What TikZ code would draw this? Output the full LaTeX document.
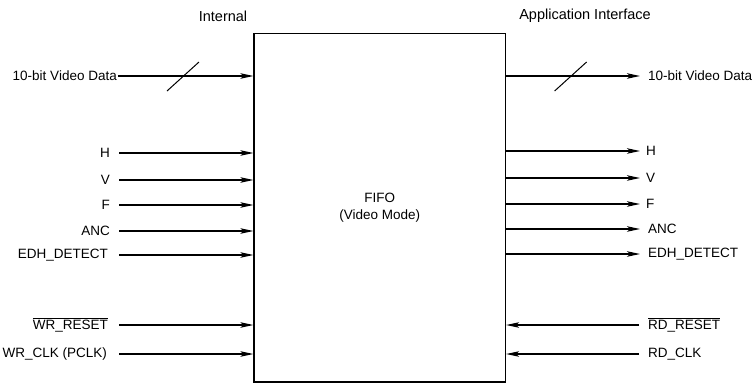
\documentclass[tikz,border=0pt]{standalone}
\usepackage{fontspec}
\setmainfont{Liberation Sans}
\usetikzlibrary{arrows.meta, positioning, calc}

\begin{document}
\begin{tikzpicture}[x=1pt, y=-1pt,
  sig/.style={line width=1.2pt, -{Stealth[length=13pt, width=5.5pt, inset=3pt]}},
  lbl/.style={font=\fontsize{13.5}{16}\selectfont, inner sep=2pt},
  inlbl/.style={lbl, anchor=east, xshift=-7pt},
  outlbl/.style={lbl, anchor=west, xshift=4pt},
  busmark/.style={line width=1pt}]
  \useasboundingbox (0,0) rectangle (756,384);

  % FIFO block
  \node[draw, line width=1.2pt, minimum width=251.5pt, minimum height=348.5pt,
        inner sep=0pt, align=center, font=\fontsize{13.5}{17}\selectfont]
        (fifo) at (379.75,207.75) {FIFO\\(Video Mode)};

  % side headings
  \node[lbl, font=\fontsize{14.5}{16}\selectfont] (hdint) at (223,16) {Internal};
  \node[lbl, font=\fontsize{14.5}{16}\selectfont] (hdapp) at (585,16) {Application Interface};

  % Internal side -- data bus
  \coordinate (inD) at (118,76);
  \node[lbl, anchor=east, inner sep=1pt] (lblInD) at (inD) {10-bit Video Data};
  \draw[sig] (inD) -- (inD -| fifo.west);
  \draw[busmark] ($(inD)+(49,15)$) -- ++(32,-29);

  % Internal side -- timing signals
  \coordinate (inH) at (119,153);
  \node[inlbl] (lblInH) at (inH) {H};
  \draw[sig] (inH) -- (inH -| fifo.west);
  \coordinate (inV) at (119,180);
  \node[inlbl] (lblInV) at (inV) {V};
  \draw[sig] (inV) -- (inV -| fifo.west);
  \coordinate (inF) at (119,205);
  \node[inlbl] (lblInF) at (inF) {F};
  \draw[sig] (inF) -- (inF -| fifo.west);
  \coordinate (inA) at (119,231);
  \node[inlbl] (lblInA) at (inA) {ANC};
  \draw[sig] (inA) -- (inA -| fifo.west);
  \coordinate (inE) at (119,255);
  \node[inlbl, xshift=-2pt] (lblInE) at (inE) {EDH\_DETECT};
  \draw[sig] (inE) -- (inE -| fifo.west);

  % Internal side -- reset and clock
  \coordinate (inR) at (119,325);
  \node[inlbl, xshift=-2pt] (lblInR) at (inR) {$\overline{\mbox{WR\_RESET}}$};
  \draw[sig] (inR) -- (inR -| fifo.west);
  \coordinate (inC) at (119,354);
  \node[inlbl, xshift=-3pt] (lblInC) at (inC) {WR\_CLK (PCLK)};
  \draw[sig] (inC) -- (inC -| fifo.west);

  % Application side -- data bus
  \coordinate (outD) at (640,76);
  \node[outlbl, xshift=2pt] (lblOutD) at (outD) {10-bit Video Data};
  \draw[sig] (outD -| fifo.east) -- (outD);
  \draw[busmark] ($(outD -| fifo.east)+(48.5,15)$) -- ++(32,-29);

  % Application side -- timing signals
  \coordinate (outH) at (640,151);
  \node[outlbl] (lblOutH) at (outH) {H};
  \draw[sig] (outH -| fifo.east) -- (outH);
  \coordinate (outV) at (640,178);
  \node[outlbl] (lblOutV) at (outV) {V};
  \draw[sig] (outV -| fifo.east) -- (outV);
  \coordinate (outF) at (640,204);
  \node[outlbl] (lblOutF) at (outF) {F};
  \draw[sig] (outF -| fifo.east) -- (outF);
  \coordinate (outA) at (640,229);
  \node[outlbl, xshift=2pt] (lblOutA) at (outA) {ANC};
  \draw[sig] (outA -| fifo.east) -- (outA);
  \coordinate (outE) at (640,254);
  \node[outlbl, xshift=2pt] (lblOutE) at (outE) {EDH\_DETECT};
  \draw[sig] (outE -| fifo.east) -- (outE);

  % Application side -- reset and clock (into the FIFO)
  \coordinate (outR) at (639,325);
  \node[outlbl, xshift=3pt] (lblOutR) at (outR) {$\overline{\mbox{RD\_RESET}}$};
  \draw[sig] (outR) -- (outR -| fifo.east);
  \coordinate (outC) at (639,354);
  \node[outlbl, xshift=3pt] (lblOutC) at (outC) {RD\_CLK};
  \draw[sig] (outC) -- (outC -| fifo.east);
\end{tikzpicture}
\end{document}
